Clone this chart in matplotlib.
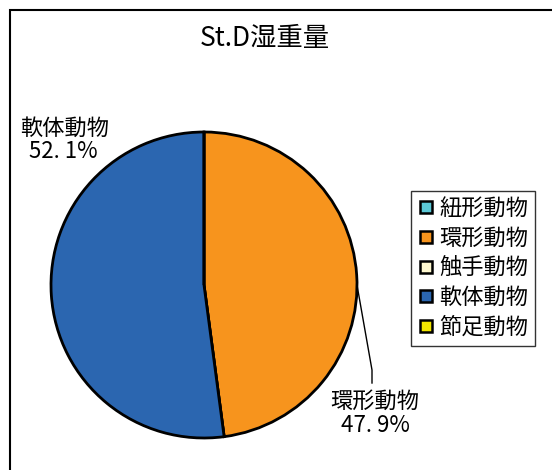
import matplotlib.pyplot as plt
from matplotlib.patches import Rectangle
import numpy as np

plt.rcParams['font.family'] = ['Noto Sans CJK JP', 'DejaVu Sans']

# データ
categories = ['紐形動物', '環形動物', '触手動物', '軟体動物', '節足動物']
values = [0.0, 47.9, 0.0, 52.1, 0.0]
colors = ['#5BC8D6', '#F7941D', '#FFF9D0', '#2B66B0', '#F2E600']
title = 'St.D湿重量'

W, H = 552, 470
fig = plt.figure(figsize=(W / 100, H / 100), dpi=100)

# グラフ枠
fig.patches.append(Rectangle((10 / W, -0.1), 1.2, (H - 10) / H + 0.1,
                             transform=fig.transFigure, fill=False,
                             edgecolor='black', linewidth=1.5))

fig.text(265 / W, 1 - 38 / H, title, ha='center', va='center', fontsize=19)

# 円グラフ (中心 204,285 / 半径 153 px)
cx, cy, r = 204, 285, 153
ax = fig.add_axes([(cx - r) / W, 1 - (cy + r) / H, 2 * r / W, 2 * r / H])
wedges, _ = ax.pie(values, colors=colors, startangle=90, counterclock=False,
                   wedgeprops=dict(edgecolor='black', linewidth=2))
ax.set_xlim(-1, 1)
ax.set_ylim(-1, 1)
ax.set_aspect('equal')
ax.axis('off')

# ラベル
def px(x, y):
    return ((x - cx) / r, (cy - y) / r)

total = sum(values)
for name, v in zip(categories, values):
    if v == 0:
        continue
    pct = f'{v / total * 100:.1f}'.replace('.', '. ') + '%'
    if name == '軟体動物':
        ax.text(*px(65, 128), name, ha='center', va='center', fontsize=16,
                clip_on=False)
        ax.text(*px(63, 152), pct, ha='center', va='center', fontsize=16,
                clip_on=False)
    else:
        xs, ys = zip(px(357, 285), px(372, 370), px(372, 383))
        ax.plot(xs, ys, color='black', linewidth=1, clip_on=False)
        ax.text(*px(375, 401), name, ha='center', va='center', fontsize=16,
                clip_on=False)
        ax.text(*px(375, 425), pct, ha='center', va='center', fontsize=16,
                clip_on=False)

# 凡例
handles = [plt.Line2D([], [], marker='s', linestyle='none', markersize=9,
                      markerfacecolor=c, markeredgecolor='black',
                      markeredgewidth=1.8) for c in colors]
leg = fig.legend(handles, categories, loc='center',
                 bbox_to_anchor=(473 / W, 1 - 268 / H), fontsize=16,
                 frameon=True, fancybox=False, edgecolor='black',
                 handlelength=0.7, handletextpad=0.25, labelspacing=0.3,
                 borderpad=0.3, borderaxespad=0)
leg.get_frame().set_linewidth(1)

fig.savefig('out.png', dpi=100)
